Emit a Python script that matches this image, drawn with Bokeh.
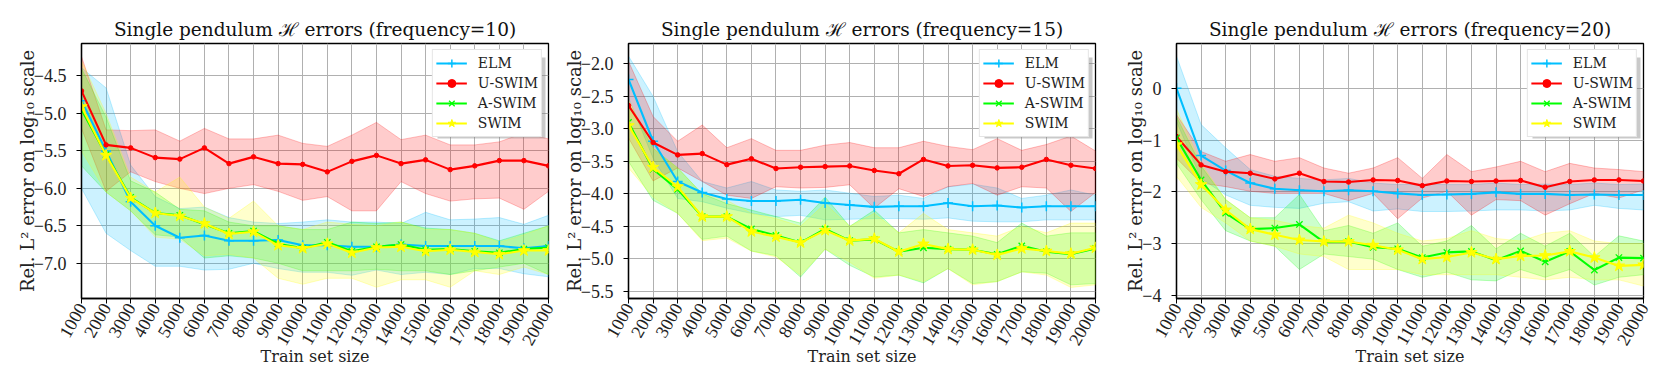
import math
from bokeh.plotting import figure
from bokeh.layouts import row
from bokeh.models import Range1d, FixedTicker, CustomJSTickFormatter, BoxAnnotation
from bokeh.embed import file_html
from bokeh.resources import INLINE

# ---------------- data ----------------
train_sizes = [1000, 2000, 3000, 4000, 5000, 6000, 7000, 8000, 9000, 10000,
               11000, 12000, 13000, 14000, 15000, 16000, 17000, 18000, 19000, 20000]
methods = ["ELM", "U-SWIM", "A-SWIM", "SWIM"]
frequencies = [10, 15, 20]

# frequency = 10
f10_elm_mean = [-4.83, -5.50, -6.18, -6.50, -6.66, -6.63, -6.70, -6.70, -6.69, -6.76, -6.76, -6.78, -6.78, -6.75, -6.77, -6.77, -6.77, -6.77, -6.80, -6.77]
f10_elm_hi = [-4.39, -4.66, -5.69, -6.11, -6.27, -6.25, -6.39, -6.45, -6.47, -6.45, -6.42, -6.45, -6.45, -6.47, -6.32, -6.42, -6.41, -6.39, -6.48, -6.36]
f10_elm_lo = [-6.00, -6.60, -6.83, -7.04, -7.04, -7.09, -7.08, -7.00, -7.07, -7.12, -7.12, -7.16, -7.09, -7.15, -7.12, -7.15, -7.07, -7.07, -7.14, -7.18]
f10_usw_mean = [-4.70, -5.42, -5.46, -5.59, -5.61, -5.46, -5.67, -5.58, -5.67, -5.68, -5.78, -5.64, -5.56, -5.67, -5.62, -5.75, -5.70, -5.63, -5.63, -5.70]
f10_usw_hi = [-4.24, -5.22, -5.23, -5.22, -5.37, -5.20, -5.34, -5.34, -5.29, -5.40, -5.44, -5.29, -5.12, -5.35, -5.29, -5.42, -5.42, -5.38, -5.26, -5.34]
f10_usw_lo = [-5.20, -6.04, -5.78, -5.91, -6.00, -6.07, -6.00, -5.95, -6.04, -6.16, -6.11, -6.30, -6.30, -5.91, -6.07, -6.17, -6.14, -6.13, -6.28, -6.04]
f10_asw_mean = [-4.95, -5.55, -6.12, -6.33, -6.36, -6.48, -6.60, -6.57, -6.74, -6.80, -6.72, -6.84, -6.78, -6.75, -6.82, -6.81, -6.84, -6.86, -6.81, -6.79]
f10_asw_hi = [-4.40, -5.05, -5.90, -6.05, -6.28, -6.30, -6.45, -6.50, -6.50, -6.55, -6.55, -6.45, -6.47, -6.45, -6.53, -6.55, -6.60, -6.70, -6.60, -6.50]
f10_asw_lo = [-5.70, -6.05, -6.30, -6.62, -6.65, -6.93, -6.90, -6.93, -7.00, -7.10, -7.10, -7.10, -7.08, -7.10, -7.10, -7.15, -7.10, -7.05, -7.00, -7.15]
f10_sw_mean = [-4.91, -5.56, -6.13, -6.33, -6.37, -6.47, -6.61, -6.58, -6.76, -6.80, -6.74, -6.86, -6.79, -6.78, -6.84, -6.82, -6.85, -6.88, -6.83, -6.83]
f10_sw_hi = [-4.30, -5.00, -5.85, -6.05, -5.85, -6.25, -6.40, -6.17, -6.50, -6.55, -6.45, -6.48, -6.50, -6.45, -6.55, -6.55, -6.60, -6.72, -6.62, -6.50]
f10_sw_lo = [-5.50, -6.05, -6.30, -6.65, -6.68, -6.90, -6.88, -6.93, -7.20, -7.28, -7.20, -7.20, -7.32, -7.22, -7.22, -7.32, -7.10, -7.15, -7.05, -7.15]

# frequency = 15
f15_elm_mean = [-2.24, -3.19, -3.81, -3.98, -4.08, -4.11, -4.11, -4.09, -4.14, -4.17, -4.20, -4.19, -4.19, -4.14, -4.19, -4.18, -4.21, -4.19, -4.19, -4.19]
f15_elm_hi = [-1.88, -2.50, -3.35, -3.81, -3.91, -3.81, -3.94, -3.96, -3.94, -3.99, -4.04, -4.02, -4.07, -3.89, -3.85, -3.91, -4.07, -4.02, -3.94, -4.02]
f15_elm_lo = [-2.52, -3.45, -4.07, -4.12, -4.22, -4.30, -4.35, -4.33, -4.40, -4.39, -4.38, -4.38, -4.39, -4.37, -4.42, -4.43, -4.43, -4.40, -4.40, -4.40]
f15_usw_mean = [-2.64, -3.21, -3.40, -3.38, -3.55, -3.46, -3.61, -3.59, -3.58, -3.57, -3.64, -3.69, -3.47, -3.57, -3.56, -3.60, -3.59, -3.47, -3.56, -3.61]
f15_usw_hi = [-1.96, -2.81, -3.19, -2.94, -3.29, -3.15, -3.33, -3.33, -3.25, -3.21, -3.29, -3.29, -3.19, -3.27, -3.32, -3.15, -3.33, -3.24, -3.11, -3.34]
f15_usw_lo = [-3.14, -3.80, -3.60, -3.81, -4.02, -4.07, -3.89, -3.91, -3.90, -3.86, -4.22, -3.92, -4.04, -3.89, -3.84, -4.02, -3.89, -3.91, -4.27, -3.98]
f15_asw_mean = [-2.90, -3.62, -3.93, -4.35, -4.35, -4.54, -4.64, -4.75, -4.54, -4.72, -4.70, -4.89, -4.83, -4.85, -4.86, -4.93, -4.80, -4.89, -4.93, -4.84]
f15_asw_hi = [-2.60, -3.30, -3.60, -4.00, -4.15, -4.25, -4.35, -4.45, -4.05, -4.50, -4.25, -4.60, -4.55, -4.60, -4.65, -4.75, -4.45, -4.65, -4.60, -4.60]
f15_asw_lo = [-3.50, -4.10, -4.30, -4.70, -4.65, -4.88, -4.95, -5.28, -4.85, -5.10, -5.28, -5.25, -5.37, -5.15, -5.38, -5.35, -5.20, -5.22, -5.40, -5.38]
f15_sw_mean = [-2.95, -3.59, -3.89, -4.35, -4.35, -4.58, -4.66, -4.75, -4.56, -4.72, -4.69, -4.89, -4.77, -4.85, -4.86, -4.94, -4.84, -4.88, -4.92, -4.83]
f15_sw_hi = [-2.55, -3.30, -3.60, -4.00, -4.10, -4.30, -4.38, -4.50, -4.15, -4.50, -4.30, -4.60, -4.30, -4.55, -4.60, -4.65, -4.50, -4.60, -4.45, -4.45]
f15_sw_lo = [-3.60, -4.05, -4.30, -4.72, -4.68, -4.88, -4.97, -5.25, -4.85, -5.05, -5.30, -5.25, -5.35, -5.15, -5.40, -5.35, -5.20, -5.25, -5.44, -5.40]

# frequency = 20
f20_elm_mean = [0.00, -1.30, -1.59, -1.83, -1.94, -1.97, -1.99, -1.97, -1.99, -2.03, -2.06, -2.05, -2.04, -2.01, -2.04, -2.04, -2.06, -2.05, -2.06, -2.06]
f20_elm_hi = [0.62, -0.70, -1.15, -1.57, -1.70, -1.74, -1.77, -1.74, -1.83, -1.86, -1.85, -1.86, -1.86, -1.83, -1.86, -1.85, -1.86, -1.83, -1.86, -1.85]
f20_elm_lo = [-0.64, -1.74, -2.06, -2.26, -2.30, -2.32, -2.22, -2.19, -2.37, -2.33, -2.38, -2.38, -2.37, -2.35, -2.35, -2.37, -2.35, -2.26, -2.32, -2.35]
f20_usw_mean = [-0.93, -1.48, -1.61, -1.64, -1.75, -1.64, -1.80, -1.81, -1.77, -1.78, -1.88, -1.79, -1.80, -1.79, -1.78, -1.91, -1.80, -1.77, -1.77, -1.79]
f20_usw_hi = [-0.51, -1.22, -1.41, -1.28, -1.41, -1.34, -1.54, -1.64, -1.54, -1.34, -1.74, -1.28, -1.61, -1.52, -1.41, -1.61, -1.45, -1.54, -1.57, -1.61]
f20_usw_lo = [-1.35, -1.83, -1.90, -1.99, -2.03, -2.03, -2.03, -2.17, -2.03, -2.52, -2.12, -1.99, -2.45, -2.15, -2.17, -2.45, -2.23, -2.03, -2.12, -1.96]
f20_asw_mean = [-0.96, -1.77, -2.41, -2.72, -2.70, -2.63, -2.97, -2.96, -3.07, -3.10, -3.27, -3.17, -3.15, -3.32, -3.14, -3.35, -3.15, -3.51, -3.27, -3.28]
f20_asw_hi = [-0.55, -1.50, -2.15, -2.50, -2.50, -2.05, -2.75, -2.65, -2.80, -2.60, -3.05, -2.95, -2.65, -3.10, -2.80, -3.05, -2.80, -3.25, -2.85, -2.95]
f20_asw_lo = [-1.45, -2.15, -2.75, -2.95, -3.05, -3.50, -3.20, -3.25, -3.30, -3.50, -3.65, -3.55, -3.70, -3.72, -3.50, -3.65, -3.50, -3.80, -3.65, -3.60]
f20_sw_mean = [-1.09, -1.86, -2.35, -2.72, -2.83, -2.93, -2.96, -2.96, -3.03, -3.12, -3.30, -3.26, -3.17, -3.30, -3.24, -3.23, -3.15, -3.27, -3.43, -3.41]
f20_sw_hi = [-0.40, -1.45, -2.15, -2.50, -2.55, -2.65, -2.70, -2.45, -2.60, -2.80, -2.95, -2.90, -2.75, -2.90, -2.95, -2.80, -2.75, -2.95, -3.00, -3.00]
f20_sw_lo = [-1.70, -2.30, -2.60, -2.95, -3.05, -3.20, -3.25, -3.50, -3.50, -3.50, -3.60, -3.60, -3.60, -3.60, -3.65, -3.70, -3.65, -3.70, -3.70, -3.82]

y_ticks_f10 = [-7.0, -6.5, -6.0, -5.5, -5.0, -4.5]
y_ticks_f15 = [-5.5, -5.0, -4.5, -4.0, -3.5, -3.0, -2.5, -2.0]
y_ticks_f20 = [-4, -3, -2, -1, 0]

# ---------------- styling ----------------
COLORS = {"ELM": "#00bfff", "U-SWIM": "#ff0000", "A-SWIM": "#00ff00", "SWIM": "#ffff00"}
MARKERS = {"ELM": ("cross", 10, 1.5), "U-SWIM": ("circle", 4.5, 1), "A-SWIM": ("x", 9, 1.3), "SWIM": ("star", 12, 1)}
SERIF = "DejaVu Serif"
TICKFONT = "Liberation Serif"

panels = [
    (10, [(f10_elm_mean, f10_elm_lo, f10_elm_hi), (f10_usw_mean, f10_usw_lo, f10_usw_hi),
          (f10_asw_mean, f10_asw_lo, f10_asw_hi), (f10_sw_mean, f10_sw_lo, f10_sw_hi)],
     (-7.47, -4.067), y_ticks_f10, 1),
    (15, [(f15_elm_mean, f15_elm_lo, f15_elm_hi), (f15_usw_mean, f15_usw_lo, f15_usw_hi),
          (f15_asw_mean, f15_asw_lo, f15_asw_hi), (f15_sw_mean, f15_sw_lo, f15_sw_hi)],
     (-5.61, -1.686), y_ticks_f15, 1),
    (20, [(f20_elm_mean, f20_elm_lo, f20_elm_hi), (f20_usw_mean, f20_usw_lo, f20_usw_hi),
          (f20_asw_mean, f20_asw_lo, f20_asw_hi), (f20_sw_mean, f20_sw_lo, f20_sw_hi)],
     (-4.06, 0.865), y_ticks_f20, 0),
]

FRAME_W = 467
FRAME_H = 255
TOP = 43
BOTTOM = 84
borders = [(81, 12), (68, 12), (69, 10)]

# legend geometry (screen px, measured from the frame's top-left corner)
LEG_MARGIN = 6
LEG_W = 113
LEG_H = 86
SHADOW = 3


def make_panel(freq, series, yr, yticks, decimals, bl, br):
    x0, x1 = train_sizes[0], train_sizes[-1]
    y0, y1 = yr
    p = figure(width=bl + FRAME_W + br, height=TOP + FRAME_H + BOTTOM,
               output_backend="svg", toolbar_location=None,
               x_range=Range1d(x0, x1), y_range=Range1d(y0, y1),
               min_border_left=bl, min_border_right=br,
               min_border_top=TOP, min_border_bottom=BOTTOM)
    p.title.text = "Single pendulum \u210b errors (frequency=%d)" % freq
    p.title.text_font = SERIF
    p.title.text_font_size = "18.5px"
    p.title.text_font_style = "normal"
    p.title.text_color = "#111111"
    p.title.align = "center"
    p.title.offset = 17
    p.title.standoff = 7

    # legend drop shadow (drawn before the legend so it sits underneath)
    def sx(px):
        return x0 + px / FRAME_W * (x1 - x0)

    def sy(py):
        return y1 - py / FRAME_H * (y1 - y0)

    leg_right = FRAME_W - LEG_MARGIN
    leg_bottom = LEG_MARGIN + LEG_H
    shadow = BoxAnnotation(left=sx(leg_right - LEG_W + 8), right=sx(leg_right + SHADOW),
                           top=sy(LEG_MARGIN + 8), bottom=sy(leg_bottom + SHADOW),
                           fill_color="#888888", fill_alpha=0.45, line_color=None)
    p.add_layout(shadow)

    # bands first
    for name, (mean, lo, hi) in zip(methods, series):
        xs = train_sizes + train_sizes[::-1]
        ys = hi + lo[::-1]
        p.patch(xs, ys, fill_color=COLORS[name], fill_alpha=0.2,
                line_color=COLORS[name], line_alpha=0.25, line_width=1)
    # lines & markers
    for name, (mean, lo, hi) in zip(methods, series):
        c = COLORS[name]
        p.line(train_sizes, mean, line_color=c, line_width=2.1, legend_label=name)
        mk, sz, lw = MARKERS[name]
        p.scatter(train_sizes, mean, marker=mk, size=sz, line_color=c, fill_color=c,
                  line_width=lw, legend_label=name)

    # axes
    p.xaxis.ticker = FixedTicker(ticks=train_sizes)
    p.xaxis.formatter = CustomJSTickFormatter(code="return tick.toFixed(0);")
    p.xaxis.major_label_orientation = math.pi / 3
    p.yaxis.ticker = FixedTicker(ticks=yticks)
    p.yaxis.formatter = CustomJSTickFormatter(
        args=dict(d=decimals),
        code="const v = Math.abs(tick).toFixed(d); return (tick < -1e-9 ? '\\u2212' : '') + v;")
    for ax in (p.xaxis, p.yaxis):
        ax.major_label_text_font = TICKFONT
        ax.major_label_text_font_size = "18px"
        ax.major_label_text_color = "#222222"
        ax.axis_label_text_font = SERIF
        ax.axis_label_text_font_size = "16px"
        ax.axis_label_text_font_style = "normal"
        ax.axis_label_text_color = "#222222"
        ax.minor_tick_line_color = None
        ax.major_tick_out = 5
        ax.major_tick_in = 0
        ax.major_tick_line_color = "black"
        ax.axis_line_color = "black"
        ax.axis_line_width = 1.3
    p.xaxis.axis_label = "Train set size"
    p.xaxis.major_label_standoff = 1
    p.xaxis.axis_label_standoff = -6
    p.yaxis.axis_label = "Rel. L\u00b2 error on log\u2081\u2080 scale"
    p.yaxis.axis_label_text_font_size = "18px"
    p.yaxis.major_label_standoff = 10
    p.yaxis.axis_label_standoff = -7

    p.xgrid.grid_line_color = "#b0b0b0"
    p.ygrid.grid_line_color = "#b0b0b0"
    p.xgrid.grid_line_width = 1
    p.ygrid.grid_line_width = 1
    p.outline_line_color = "black"
    p.outline_line_width = 1.3
    p.outline_line_alpha = 1
    p.background_fill_color = "white"
    p.border_fill_color = "white"

    lg = p.legend[0]
    lg.location = "top_right"
    lg.margin = LEG_MARGIN
    lg.padding = 3
    lg.spacing = 0
    lg.glyph_width = 31
    lg.glyph_height = 20
    lg.label_height = 20
    lg.label_width = 50
    lg.label_standoff = 11
    lg.label_text_font = SERIF
    lg.label_text_font_size = "14px"
    lg.label_text_color = "#222222"
    lg.border_line_color = "#cccccc"
    lg.border_line_width = 1
    lg.background_fill_color = "white"
    lg.background_fill_alpha = 1.0
    return p


figs = [make_panel(fq, s, yr, yt, d, bl, br)
        for (fq, s, yr, yt, d), (bl, br) in zip(panels, borders)]
layout = row(*figs)

open("out.html", "w").write(file_html(layout, INLINE))
